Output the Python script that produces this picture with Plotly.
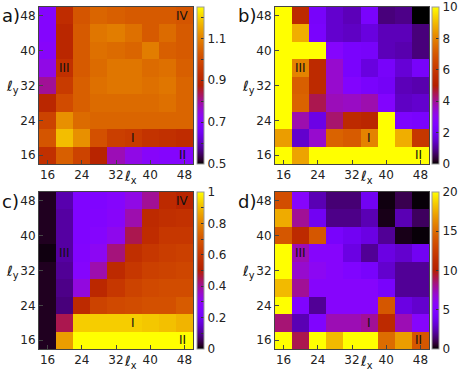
import math
import plotly.graph_objects as go

# lattice sizes (columns = l_x, rows = l_y from top to bottom)
lx = [16, 20, 24, 28, 32, 36, 40, 44, 48]
ly = [48, 44, 40, 36, 32, 28, 24, 20, 16]

z_a = [
    [0.70, 0.92, 1.02, 1.05, 1.04, 1.03, 1.03, 1.03, 1.02],
    [0.70, 0.90, 1.03, 1.08, 1.09, 1.07, 1.03, 1.06, 1.03],
    [0.71, 0.90, 1.03, 1.07, 1.06, 1.05, 1.09, 1.04, 1.03],
    [0.74, 0.93, 1.03, 1.06, 1.08, 1.08, 1.06, 1.07, 1.04],
    [0.80, 0.96, 1.04, 1.07, 1.08, 1.08, 1.07, 1.08, 1.05],
    [0.90, 1.00, 1.04, 1.06, 1.06, 1.06, 1.06, 1.07, 1.05],
    [0.98, 1.12, 1.06, 1.05, 1.05, 1.05, 1.05, 1.05, 1.05],
    [1.02, 1.18, 1.12, 1.01, 0.97, 0.96, 0.94, 0.93, 0.92],
    [0.93, 1.04, 0.98, 0.89, 0.78, 0.74, 0.71, 0.70, 0.70],
]
z_b = [
    [10, 5.5, 2.2, 1.5, 1.3, 2.3, 0.8, 0.9, 0.0],
    [10, 8.8, 2.3, 1.5, 1.4, 1.7, 1.3, 1.3, 0.8],
    [10, 10, 10, 2.7, 2.3, 2.2, 1.3, 1.2, 0.8],
    [10, 8.0, 5.5, 3.5, 2.3, 1.7, 2.2, 1.6, 2.2],
    [10, 7.2, 5.5, 3.5, 2.6, 2.3, 2.1, 1.3, 1.2],
    [10, 7.3, 4.5, 3.7, 3.6, 3.8, 2.6, 1.4, 1.5],
    [10, 3.8, 1.8, 4.3, 5.5, 5.3, 10, 2.4, 2.3],
    [8.5, 1.5, 3.5, 7.3, 7.1, 8.0, 10, 8.8, 6.0],
    [10, 8.6, 10, 10, 10, 10, 10, 10, 10],
]
z_c = [
    [0.02, 0.12, 0.25, 0.25, 0.27, 0.32, 0.40, 0.55, 0.52],
    [0.02, 0.11, 0.25, 0.26, 0.28, 0.38, 0.55, 0.57, 0.58],
    [0.02, 0.11, 0.25, 0.27, 0.31, 0.45, 0.56, 0.60, 0.60],
    [0.01, 0.11, 0.26, 0.30, 0.42, 0.57, 0.60, 0.62, 0.63],
    [0.02, 0.10, 0.27, 0.38, 0.55, 0.60, 0.63, 0.64, 0.65],
    [0.02, 0.09, 0.33, 0.54, 0.60, 0.64, 0.66, 0.67, 0.67],
    [0.02, 0.08, 0.55, 0.64, 0.66, 0.67, 0.68, 0.68, 0.71],
    [0.02, 0.45, 0.93, 0.93, 0.93, 0.93, 0.92, 0.91, 0.89],
    [0.02, 0.85, 1.00, 1.00, 1.00, 1.00, 1.00, 1.00, 1.00],
]
z_d = [
    [13.5, 5.5, 2.5, 1.5, 1.5, 4.0, 0.2, 1.0, 0.1],
    [17.5, 8.0, 4.0, 1.8, 1.8, 2.5, 0.3, 2.5, 1.2],
    [14.0, 11.0, 14.0, 4.5, 4.0, 3.5, 2.0, 0.3, 0.1],
    [20, 7.5, 5.5, 5.5, 3.5, 2.0, 3.5, 3.0, 4.0],
    [20, 7.0, 6.0, 5.5, 5.0, 4.5, 3.0, 2.0, 2.0],
    [18, 8.0, 5.5, 5.5, 5.5, 5.5, 4.5, 2.0, 2.0],
    [20, 5.0, 2.0, 5.5, 5.5, 5.5, 14.0, 3.5, 3.0],
    [8.5, 2.5, 5.0, 7.5, 7.5, 8.0, 11.0, 7.5, 5.5],
    [20, 9.0, 20, 18, 20, 20, 15, 17, 14],
]

cb_ranges = [(0.5, 1.25), (0, 10), (0, 1), (0, 20)]
cb_major = [[0.5, 0.7, 0.9, 1.1], [0, 2, 4, 6, 8, 10],
            [0, 0.2, 0.4, 0.6, 0.8, 1], [0, 5, 10, 15, 20]]
cb_minor = [[0.6, 0.8, 1.0, 1.2], [], [0.1, 0.3, 0.5, 0.7, 0.9], []]

panel_names = ["a)", "b)", "c)", "d)"]
regions = [
    [("I", 36, 20), ("II", 47.5, 16), ("III", 20, 36), ("IV", 47.5, 48)],
    [("I", 36, 20), ("II", 47.5, 16), ("III", 20, 36)],
    [("I", 36, 20), ("II", 47.5, 16), ("III", 20, 36), ("IV", 47.5, 48)],
    [("I", 36, 20), ("II", 47.5, 16), ("III", 20, 36)],
]


# gnuplot default pm3d palette (rgbformulae 7,5,15)
def gnuplot_scale(n=41):
    out = []
    for i in range(n):
        t = i / (n - 1)
        r = math.sqrt(t)
        g = t ** 3
        b = max(0.0, math.sin(2 * math.pi * t))
        out.append([t, f"rgb({round(255*r)},{round(255*g)},{round(255*b)})"])
    return out


W, H = 469, 371
px = lambda v: v / W
py = lambda v: 1 - v / H

xdom = [(39, 193), (275, 429), (39, 193), (275, 429)]
ydom = [(7, 164), (7, 164), (192, 349), (192, 349)]
cbx = [197, 432, 197, 432]

fig = go.Figure()
font = dict(family="DejaVu Sans", size=12, color="#222")
scale = gnuplot_scale()
annotations = []

for i, z in enumerate([z_a, z_b, z_c, z_d]):
    k = "" if i == 0 else str(i + 1)
    fig.add_trace(go.Heatmap(
        x=lx, y=ly, z=z, coloraxis=f"coloraxis{k}",
        xaxis=f"x{k}", yaxis=f"y{k}",
    ))
    x0, x1 = xdom[i]
    y0, y1 = ydom[i]
    fig.layout[f"xaxis{k}"] = dict(
        domain=[px(x0), px(x1)], anchor=f"y{k}", range=[14, 50],
        tickvals=[16, 24, 32, 40, 48], ticks="inside", ticklen=4,
        showline=True, mirror=True, linecolor="#444", linewidth=1,
        showgrid=False, zeroline=False, tickfont=font,
    )
    fig.layout[f"yaxis{k}"] = dict(
        domain=[py(y1), py(y0)], anchor=f"x{k}", range=[14, 50],
        tickvals=[16, 24, 32, 40, 48], ticks="inside", ticklen=4,
        showline=True, mirror=True, linecolor="#444", linewidth=1,
        showgrid=False, zeroline=False, tickfont=font,
    )
    lo, hi = cb_ranges[i]
    tv = cb_major[i] + cb_minor[i]
    tt = [f"{v:g}" for v in cb_major[i]] + [""] * len(cb_minor[i])
    fig.layout[f"coloraxis{k}"] = dict(
        colorscale=scale, cmin=lo, cmax=hi,
        colorbar=dict(
            x=px(cbx[i]), xanchor="left", thickness=7, xpad=0, ypad=0,
            y=py((y0 + y1) / 2), yanchor="middle", len=(y1 - y0) / H,
            lenmode="fraction", outlinecolor="#999", outlinewidth=1,
            tickvals=tv, ticktext=tt, ticks="inside", ticklen=3,
            tickcolor="#333", tickfont=font,
        ),
    )
    # panel letter
    annotations.append(dict(
        text=panel_names[i], x=px(x0 - 39), y=py(y0 + 9), xref="paper",
        yref="paper", xanchor="left", yanchor="middle", showarrow=False,
        font=dict(family="DejaVu Sans", size=18, color="#111"),
    ))
    # axis labels
    annotations.append(dict(
        text="ℓ<sub>y</sub>", x=px(x0 - 35), y=py(y0 + 80), xref="paper",
        yref="paper", xanchor="left", yanchor="middle", showarrow=False,
        font=dict(family="DejaVu Sans", size=14, color="#111"),
    ))
    annotations.append(dict(
        text="ℓ<sub>x</sub>", x=px(x0 + 83), y=py(y1 + 13), xref="paper",
        yref="paper", xanchor="left", yanchor="middle", showarrow=False,
        font=dict(family="DejaVu Sans", size=14, color="#111"),
    ))
    for lab, xv, yv in regions[i]:
        annotations.append(dict(
            text=lab, x=xv, y=yv, xref=f"x{k}", yref=f"y{k}",
            showarrow=False, font=dict(family="DejaVu Sans", size=12, color="#111"),
        ))

fig.update_layout(
    width=W, height=H,
    margin=dict(l=0, r=0, t=0, b=0, autoexpand=False),
    paper_bgcolor="white", plot_bgcolor="white",
    font=font, annotations=annotations, showlegend=False,
)
# page body has a default 8px margin; drop it so the figure fills the window
fig.write_html("out.html", config={"displayModeBar": False},
               post_script="document.body.style.margin='0px';")
